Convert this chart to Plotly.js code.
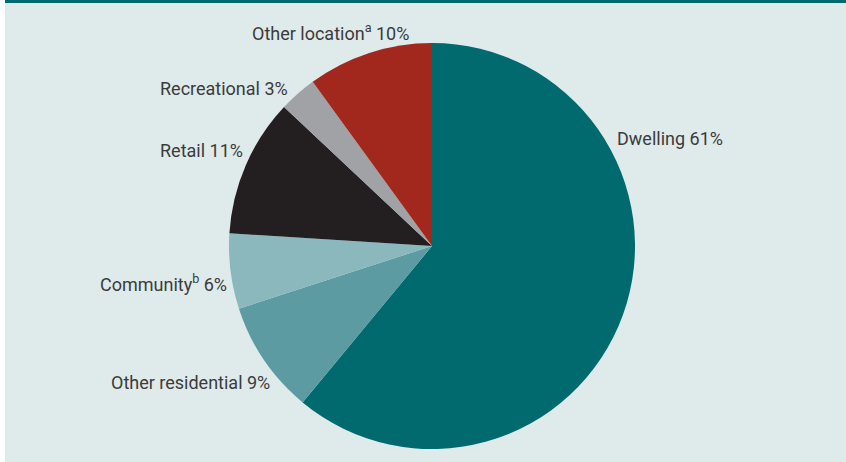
<!DOCTYPE html>
<html>
<head>
<meta charset="utf-8">
<script src="https://cdn.plot.ly/plotly-3.0.1.min.js"></script>
<style>html,body{margin:0;padding:0;background:#dfeaeb;}#chart{width:846px;height:462px;}</style>
</head>
<body>
<div id="chart"></div>
<script>
const categories = ["Dwelling", "Other residential", "Community<sup>b</sup>", "Retail", "Recreational", "Other location<sup>a</sup>"];
const values = [61, 9, 6, 11, 3, 10];
const colors = ["#006a6e", "#5b9ba1", "#8bb8bc", "#231f20", "#a1a2a5", "#a2281d"];
const labelX = [670, 190, 163, 201, 224, 330];
const labelY = [138, 382, 283, 150, 88, 32];

const W = 846, H = 462;
const cx = 432, cy = 246, R = 203;

const annotations = categories.map((c, i) => ({
  text: c + " " + values[i] + "%",
  xref: "paper", yref: "paper",
  x: labelX[i] / W, y: 1 - labelY[i] / H,
  xanchor: "center", yanchor: "middle",
  showarrow: false,
  font: {family: "Roboto, sans-serif", size: 18, color: "#3b3b3b"}
}));

const data = [{
  type: "pie",
  labels: categories,
  values: values,
  sort: false,
  direction: "clockwise",
  rotation: 0,
  textinfo: "none",
  hoverinfo: "label+percent",
  marker: {colors: colors, line: {width: 0}},
  domain: {x: [(cx - R) / W, (cx + R) / W], y: [(H - cy - R) / H, (H - cy + R) / H]}
}];

const layout = {
  width: W, height: H,
  margin: {l: 0, r: 0, t: 0, b: 0},
  paper_bgcolor: "#dfeaeb",
  showlegend: false,
  annotations: annotations,
  shapes: [
    {type: "rect", xref: "paper", yref: "paper", x0: 0, x1: 5 / W, y0: 0, y1: 1, fillcolor: "#ffffff", line: {width: 0}, layer: "above"},
    {type: "rect", xref: "paper", yref: "paper", x0: 5 / W, x1: 1, y0: 1 - 3 / H, y1: 1, fillcolor: "#006a6e", line: {width: 0}, layer: "above"}
  ]
};

Plotly.newPlot("chart", data, layout, {displayModeBar: false, staticPlot: true});
</script>
</body>
</html>
